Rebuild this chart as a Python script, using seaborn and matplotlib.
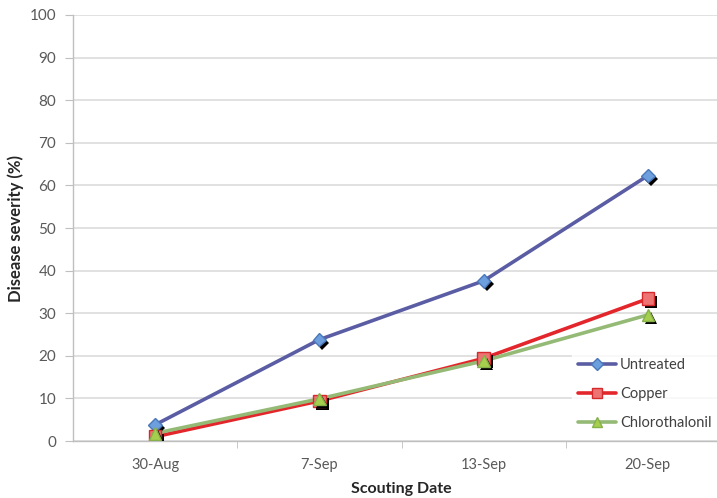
import matplotlib
matplotlib.use("Agg")
import matplotlib.pyplot as plt
import matplotlib.patheffects as pe
import pandas as pd
import seaborn as sns

dates = ["30-Aug", "7-Sep", "13-Sep", "20-Sep"]
untreated = [3.8, 23.8, 37.6, 62.3]
copper = [1.0, 9.4, 19.4, 33.4]
chlorothalonil = [1.8, 9.9, 18.8, 29.6]

treatments = ["Untreated", "Copper", "Chlorothalonil"]
line_colors = {"Untreated": "#5A5DA3", "Copper": "#E3262B", "Chlorothalonil": "#94BA76"}
face_colors = {"Untreated": "#6D9EDD", "Copper": "#EE7373", "Chlorothalonil": "#A7CF4E"}
edge_colors = {"Untreated": "#4A78B8", "Copper": "#D42A2E", "Chlorothalonil": "#86B04A"}
marker_map = {"Untreated": "D", "Copper": "s", "Chlorothalonil": "^"}
marker_size = {"Untreated": 7, "Copper": 9, "Chlorothalonil": 9}

df = pd.DataFrame({
    "date": dates * 3,
    "pos": list(range(len(dates))) * 3,
    "severity": untreated + copper + chlorothalonil,
    "treatment": [t for t in treatments for _ in dates],
})

sns.set_style("white")
plt.rcParams["font.family"] = ["Lato", "DejaVu Sans"]

fig = plt.figure(figsize=(7.17, 4.98), dpi=100)
ax = fig.add_axes([73 / 717, 57 / 498, 657 / 717, 426 / 498])

sns.lineplot(data=df, x="pos", y="severity", hue="treatment", palette=line_colors,
             linewidth=2.6, legend=False, ax=ax, zorder=3)

# markers with the Excel-style black drop shadow
for t in treatments:
    sub = df[df["treatment"] == t]
    ax.plot(sub["pos"], sub["severity"], linestyle="none", marker=marker_map[t],
            markersize=marker_size[t], markerfacecolor=face_colors[t],
            markeredgecolor=edge_colors[t], markeredgewidth=1, zorder=4,
            path_effects=[pe.SimplePatchShadow(offset=(2.2, -2.2), shadow_rgbFace="black", alpha=1.0),
                          pe.Normal()])

ax.set_xlim(-0.5, len(dates) - 0.5)
ax.set_ylim(0, 100)
ax.set_yticks(range(0, 101, 10))
ax.set_xticks(range(len(dates)))
ax.set_xticklabels(dates)
ax.set_xticks([i + 0.5 for i in range(len(dates) - 1)], minor=True)
ax.yaxis.grid(True, color="#D9D9D9", linewidth=1.1)
ax.set_axisbelow(True)

for s in ["top", "right"]:
    ax.spines[s].set_visible(False)
for s in ["left", "bottom"]:
    ax.spines[s].set_color("#BFBFBF")
    ax.spines[s].set_linewidth(1)

ax.tick_params(axis="y", which="major", left=True, length=6, color="#BFBFBF",
               labelsize=11, labelcolor="#595959", pad=6)
ax.tick_params(axis="x", which="major", bottom=False, labelsize=10.5,
               labelcolor="#595959", pad=9)
ax.tick_params(axis="x", which="minor", bottom=True, length=5, color="#BFBFBF")

ax.set_xlabel("Scouting Date", fontsize=11.5, fontweight="bold", color="#262626", labelpad=7)
ax.set_ylabel("Disease severity (%)", fontsize=12, fontweight="bold", color="#262626", labelpad=4)

handles = [plt.Line2D([], [], color=line_colors[t], linewidth=2.6, marker=marker_map[t],
                      markersize=marker_size[t] * 0.85, markerfacecolor=face_colors[t],
                      markeredgecolor=edge_colors[t]) for t in treatments]
leg = fig.legend(handles, treatments, loc="upper left", bbox_to_anchor=(572 / 717, 1 - 352 / 498),
                 frameon=True, fontsize=10.5, handlelength=2.6, handletextpad=0.3,
                 labelspacing=1.05, borderaxespad=0)
leg.get_frame().set_facecolor("white")
leg.get_frame().set_edgecolor("white")
for txt in leg.get_texts():
    txt.set_color("#404040")

fig.savefig("out.png", dpi=100)
